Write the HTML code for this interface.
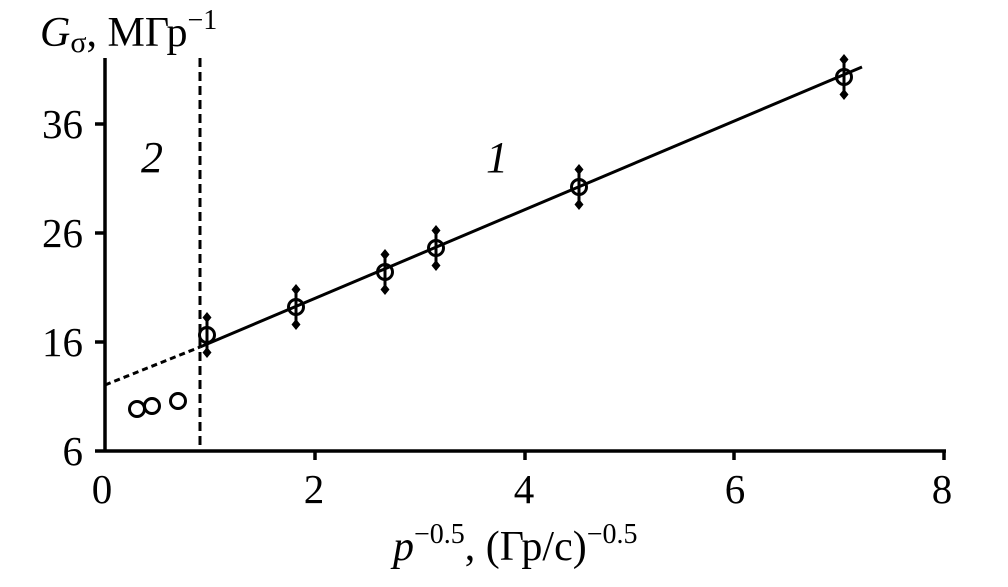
<!DOCTYPE html>
<html><head><meta charset="utf-8"><style>
body{margin:0;background:#fff;}
svg{display:block;font-family:"Liberation Serif",serif;}
</style></head><body>
<svg width="1008" height="587" viewBox="0 0 1008 587" xmlns="http://www.w3.org/2000/svg">
<defs>
<g id="eb">
<line x1="0" y1="-16" x2="0" y2="16" stroke="#000" stroke-width="3"/>
<path d="M0,-23 L4.5,-17.5 L0,-12 L-4.5,-17.5Z M0,23 L4.5,17.5 L0,12 L-4.5,17.5Z" fill="#000"/>
<circle r="7.5" fill="none" stroke="#000" stroke-width="3"/>
</g>
</defs>
<g stroke="#000" stroke-width="3.5" fill="none">
<line x1="105" y1="58" x2="105" y2="452"/>
<line x1="95" y1="451" x2="946" y2="451"/>
<line x1="95" y1="124" x2="105" y2="124"/>
<line x1="95" y1="233" x2="105" y2="233"/>
<line x1="95" y1="342" x2="105" y2="342"/>
<line x1="315" y1="451" x2="315" y2="460"/>
<line x1="525" y1="451" x2="525" y2="460"/>
<line x1="734" y1="451" x2="734" y2="460"/>
<line x1="944" y1="451" x2="944" y2="460"/>
</g>
<line x1="200" y1="58" x2="200" y2="451" stroke="#000" stroke-width="3" stroke-dasharray="9,5"/>
<line x1="105" y1="385" x2="200" y2="347" stroke="#000" stroke-width="3" stroke-dasharray="6,4"/>
<line x1="200" y1="347" x2="862" y2="67" stroke="#000" stroke-width="3"/>
<use href="#eb" x="207" y="335"/>
<use href="#eb" x="296" y="307"/>
<use href="#eb" x="385" y="272"/>
<use href="#eb" x="436" y="248"/>
<use href="#eb" x="579" y="187"/>
<use href="#eb" x="844" y="77"/>
<g fill="none" stroke="#000" stroke-width="3">
<circle cx="137" cy="409" r="7.5"/><circle cx="152" cy="406" r="7.5"/><circle cx="178" cy="401" r="7.5"/>
</g>
<g font-size="41" fill="#000" text-anchor="end">
<text x="83" y="138">36</text><text x="83" y="247">26</text><text x="83" y="356">16</text><text x="83" y="465">6</text>
</g>
<g font-size="41" fill="#000" text-anchor="middle">
<text x="102" y="503">0</text><text x="314" y="503">2</text><text x="524" y="503">4</text><text x="735" y="503">6</text><text x="942" y="503">8</text>
</g>
<text x="152" y="172" font-size="44" font-style="italic" text-anchor="middle">2</text>
<text x="497" y="172" font-size="44" font-style="italic" text-anchor="middle">1</text>
<text x="40" y="46" font-size="42"><tspan font-style="italic">G</tspan><tspan font-size="30" dy="6">σ</tspan><tspan dy="-6">, МГр</tspan><tspan font-size="28" dy="-17">−1</tspan></text>
<text x="393" y="560" font-size="42"><tspan font-style="italic">p</tspan><tspan font-size="28" dy="-17">−0.5</tspan><tspan dy="17">, (Гр/с)</tspan><tspan font-size="28" dy="-17">−0.5</tspan></text>
</svg>
</body></html>
